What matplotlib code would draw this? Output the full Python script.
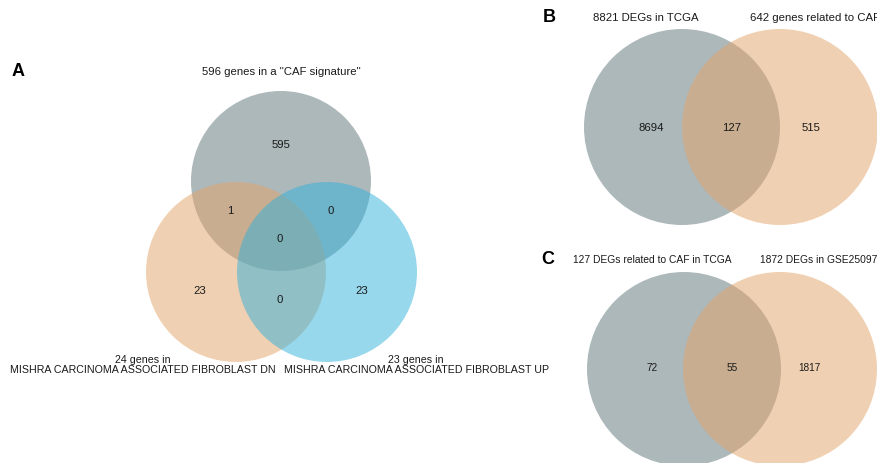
import matplotlib
matplotlib.use("Agg")
from matplotlib import pyplot as plt
from matplotlib.patches import Circle

plt.rcParams['font.family'] = ['Liberation Sans', 'DejaVu Sans']

# panel A: three-set overlap
a_sets = ['596 genes in a "CAF signature"',
          '24 genes in\nMISHRA CARCINOMA ASSOCIATED FIBROBLAST DN',
          '23 genes in\nMISHRA CARCINOMA ASSOCIATED FIBROBLAST UP']
# regions: top only, left only, right only, top&left, top&right, left&right, all
a_counts = [595, 23, 23, 1, 0, 0, 0]

# panel B and C: two-set overlaps (left only, both, right only)
b_sets = ['8821 DEGs in TCGA', '642 genes related to CAF']
b_counts = [8694, 127, 515]
c_sets = ['127 DEGs related to CAF in TCGA', '1872 DEGs in GSE25097']
c_counts = [72, 55, 1817]

grey = '#5d7379'
orange = '#e3a367'
blue = '#31b2da'

fig = plt.figure(figsize=(8.77, 4.63), dpi=100, facecolor='white')
ax = fig.add_axes([0, 0, 1, 1])
ax.set_xlim(0, 877)
ax.set_ylim(463, 0)
ax.set_aspect('equal')
ax.axis('off')

fs = 8.2
tc = '#1a1a1a'
lab = dict(ha='center', va='center', fontsize=13, fontweight='bold', color='black')

# ---- A ----
r = 90
top, left, right = (281, 181), (236, 272), (327, 272)
for c, col in [(top, grey), (left, orange), (right, blue)]:
    ax.add_patch(Circle(c, r, facecolor=col, edgecolor='none', alpha=0.5))

a_pos = [(281, 145), (200, 291), (362, 291), (230, 211), (331, 211), (280, 300), (280, 239)]
for (x, y), n in zip(a_pos, a_counts):
    ax.text(x, y, str(n), ha='center', va='center', fontsize=fs, color=tc)

ax.text(281, 72, a_sets[0], ha='center', va='center', fontsize=fs, color=tc)
ax.text(143, 365, a_sets[1], ha='center', va='center', fontsize=7.7, color=tc,
        linespacing=0.95)
ax.text(416, 365, a_sets[2], ha='center', va='center', fontsize=7.7, color=tc,
        linespacing=0.95)
ax.text(18, 72, 'A', **lab)

# ---- B ----
rb = 98
for c, col in [((682, 127), grey), ((780, 127), orange)]:
    ax.add_patch(Circle(c, rb, facecolor=col, edgecolor='none', alpha=0.5))
for x, n in zip([651, 732, 811], b_counts):
    ax.text(x, 128, str(n), ha='center', va='center', fontsize=fs, color=tc)
ax.text(646, 18, b_sets[0], ha='center', va='center', fontsize=fs, color=tc)
ax.text(750, 18, b_sets[1], ha='left', va='center', fontsize=fs, color=tc)
ax.text(549, 18, 'B', **lab)

# ---- C ----
rc = 97
fs_c = 7.4
for c, col in [((684, 369), grey), ((780, 369), orange)]:
    ax.add_patch(Circle(c, rc, facecolor=col, edgecolor='none', alpha=0.5))
for x, n in zip([652, 732, 809], c_counts):
    ax.text(x, 368, str(n), ha='center', va='center', fontsize=7.2, color=tc)
ax.text(652, 260, c_sets[0], ha='center', va='center', fontsize=fs_c, color=tc)
ax.text(760, 260, c_sets[1], ha='left', va='center', fontsize=fs_c, color=tc)
ax.text(548, 260, 'C', **lab)

fig.savefig('out.png', dpi=100, facecolor='white')
